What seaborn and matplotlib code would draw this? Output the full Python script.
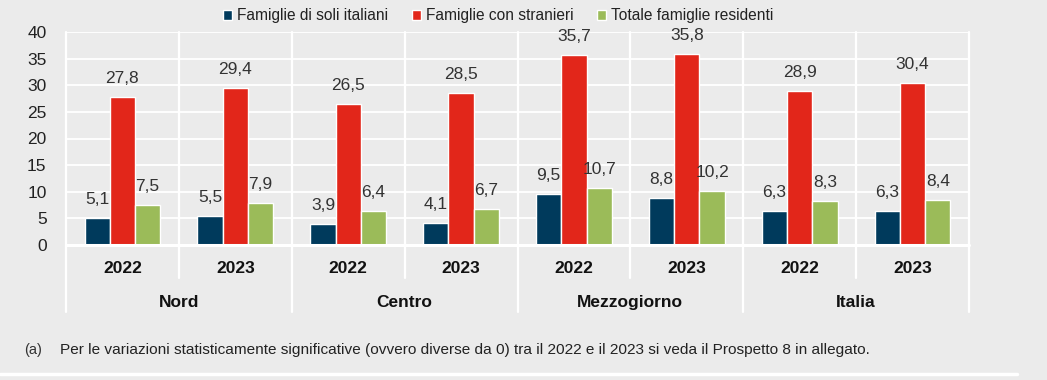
import matplotlib
matplotlib.use("Agg")
import matplotlib.pyplot as plt
import seaborn as sns
import pandas as pd
from matplotlib.lines import Line2D
from matplotlib import font_manager

# ---------------- data ----------------
regions = ["Nord", "Centro", "Mezzogiorno", "Italia"]
years = ["2022", "2023"]
series = ["Famiglie di soli italiani", "Famiglie con stranieri", "Totale famiglie residenti"]
soli_italiani = [5.1, 5.5, 3.9, 4.1, 9.5, 8.8, 6.3, 6.3]
con_stranieri = [27.8, 29.4, 26.5, 28.5, 35.7, 35.8, 28.9, 30.4]
totale_famiglie = [7.5, 7.9, 6.4, 6.7, 10.7, 10.2, 8.3, 8.4]
y_ticks = [0, 5, 10, 15, 20, 25, 30, 35, 40]
footnote_mark = "(a)"
footnote = ("Per le variazioni statisticamente significative (ovvero diverse da 0) "
            "tra il 2022 e il 2023 si veda il Prospetto 8 in allegato.")

colors = ["#003a5c", "#e2261a", "#9bbb59"]
bg = "#ebebeb"

slots = [f"{r} {y}" for r in regions for y in years]
slot_years = [y for r in regions for y in years]
rows = []
for name, vals in zip(series, [soli_italiani, con_stranieri, totale_famiglie]):
    for s, v in zip(slots, vals):
        rows.append({"slot": s, "serie": name, "valore": v})
df = pd.DataFrame(rows)

sns.set_style("white")
avail = {f.name for f in font_manager.fontManager.ttflist}
fam = "Liberation Sans Narrow" if "Liberation Sans Narrow" in avail else "Liberation Sans"
plt.rcParams["font.family"] = [fam, "DejaVu Sans"]

fig = plt.figure(figsize=(10.47, 3.80), dpi=100, facecolor=bg)
ax = fig.add_axes([66 / 1047, 1 - 245 / 380, (969 - 66) / 1047, (245 - 32) / 380])
ax.set_facecolor(bg)

sns.barplot(data=df, x="slot", y="valore", hue="serie", order=slots, hue_order=series,
            palette=colors, saturation=1, width=0.67, ax=ax, errorbar=None)

for cont in ax.containers:
    ax.bar_label(cont, labels=[f"{v:.1f}".replace(".", ",") for v in cont.datavalues],
                 padding=8, fontsize=12.5, color="#333333", clip_on=False)

ax.set_ylim(0, 40)
ax.set_xlim(-0.5, len(slots) - 0.5)
ax.set_yticks(y_ticks)
ax.set_yticklabels([str(t) for t in y_ticks], fontsize=12.5, color="#222222")
ax.tick_params(axis="y", length=6, width=1.2, color="white", pad=8)
ax.set_xticks([])
ax.set_xlabel("")
ax.set_ylabel("")
for sp in ax.spines.values():
    sp.set_visible(False)

# horizontal gridlines
for t in y_ticks[1:]:
    ax.axhline(t, color="white", lw=1.3, zorder=0)
ax.axhline(0, color="white", lw=2.2, zorder=3, clip_on=False)

# vertical separators
tr = ax.get_xaxis_transform()
n = len(slots)
for i in range(n + 1):
    xb = i - 0.5
    low = -0.315 if i % 2 == 0 else -0.155
    ax.plot([xb, xb], [low, 1], transform=tr, color="white", lw=1.6, clip_on=False, zorder=0)

# year labels and region labels
for i, y in enumerate(slot_years):
    ax.text(i, -0.108, y, transform=tr, ha="center", va="center",
            fontsize=12.5, fontweight="bold", color="#111111")
for j, r in enumerate(regions):
    ax.text(2 * j + 0.5, -0.268, r, transform=tr, ha="center", va="center",
            fontsize=12.5, fontweight="bold", color="#111111")

# legend
handles, labels = ax.get_legend_handles_labels()
if ax.get_legend() is not None:
    ax.get_legend().remove()
fig.legend(handles, labels, loc="upper center", bbox_to_anchor=(498 / 1047, 1.015), ncol=3,
           frameon=False, fontsize=11.2, handlelength=0.6, handleheight=0.6,
           handletextpad=0.3, columnspacing=1.5, labelcolor="#222222")

# footnote
fig.text(24 / 1047, 1 - 350 / 380, footnote_mark, ha="left", va="center", fontsize=10.5, color="#333333")
fig.text(60 / 1047, 1 - 350 / 380, footnote, ha="left", va="center", fontsize=11.1, color="#222222")

fig.add_artist(Line2D([0, 1017 / 1047], [1 - 374 / 380, 1 - 374 / 380], transform=fig.transFigure,
                      color="white", lw=2.5))

fig.savefig("out.png", dpi=100, facecolor=bg)
